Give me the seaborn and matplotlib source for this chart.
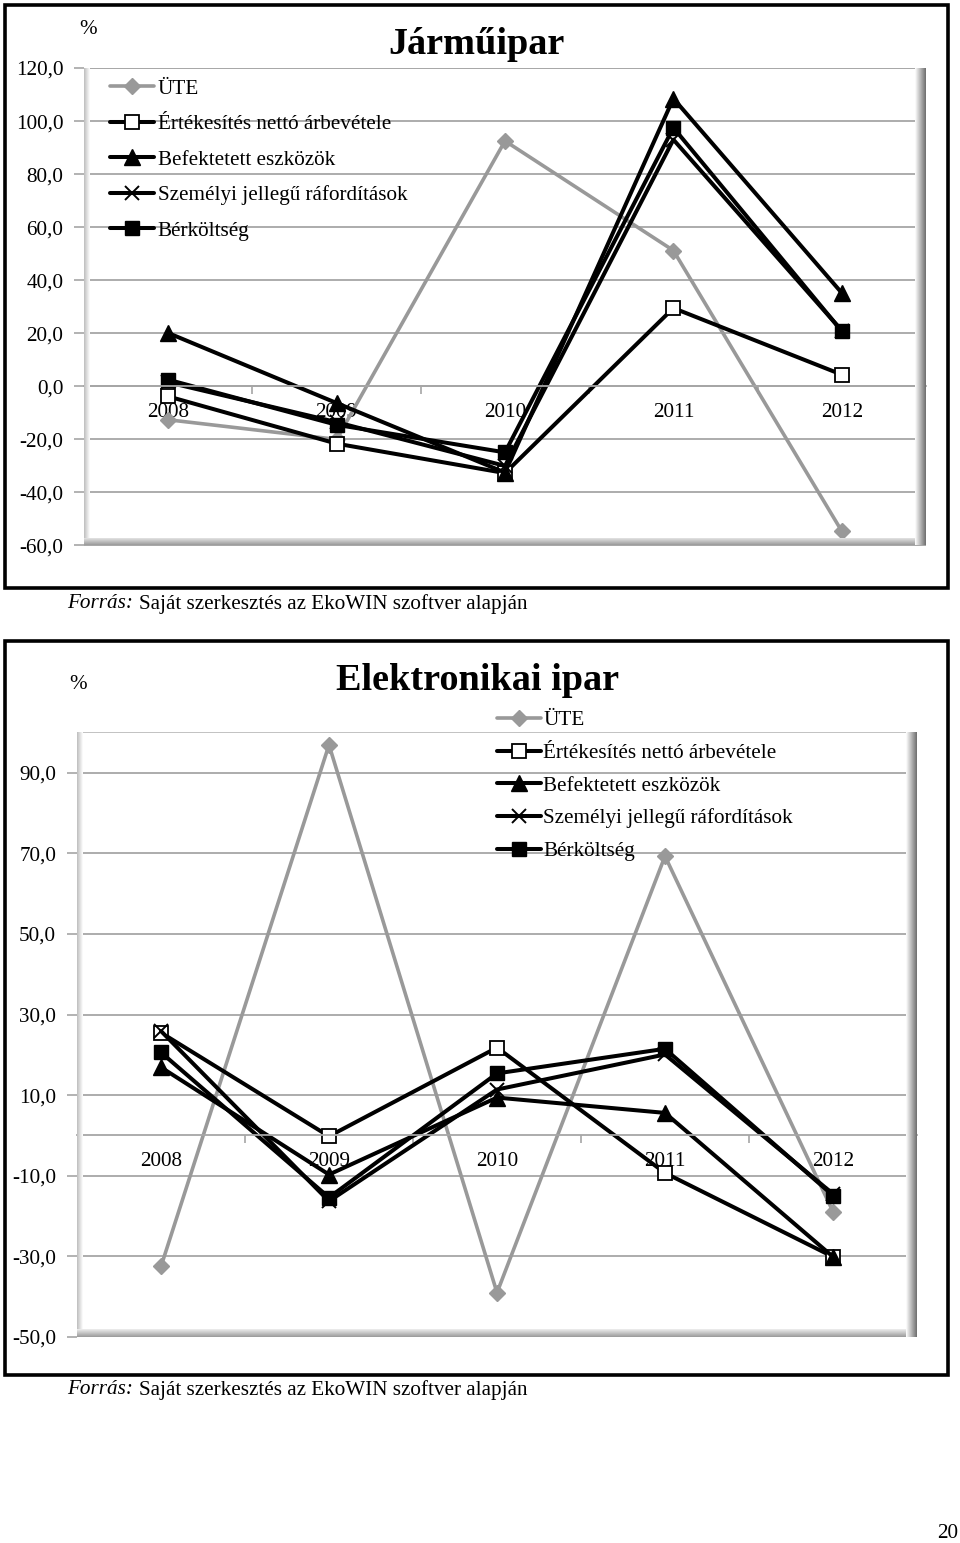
import numpy as np
import matplotlib.pyplot as plt
import matplotlib.ticker as mticker
from matplotlib.colors import LinearSegmentedColormap
from matplotlib.patches import Rectangle
import seaborn as sns

sns.set_theme(style="white")
plt.rcParams["font.family"] = ["Liberation Serif", "DejaVu Serif"]
plt.rcParams["text.color"] = "black"
plt.rcParams["xtick.color"] = "black"
plt.rcParams["ytick.color"] = "black"

# ── data ─────────────────────────────────────────────────────────────
years = ["2008", "2009", "2010", "2011", "2012"]
labels = ["ÜTE", "Értékesítés nettó árbevétele", "Befektetett eszközök",
          "Személyi jellegű ráfordítások", "Bérköltség"]

# Járműipar
ute_j  = [-12.6, -20.0, 92.5, 51.2, -54.6]
ert_j  = [-3.8, -21.6, -32.7, 29.5, 4.4]
bef_j  = [20.1, -6.3, -32.5, 108.5, 35.2]
szem_j = [1.5, -13.5, -30.0, 93.0, 21.0]
ber_j  = [2.5, -14.5, -24.9, 97.5, 20.8]

# Elektronikai ipar
ute_e  = [-32.5, 96.9, -39.0, 69.3, -18.9]
ert_e  = [25.5, -0.2, 21.8, -9.3, -30.1]
bef_e  = [16.9, -9.7, 9.4, 5.6, -30.1]
szem_e = [25.9, -16.3, 11.4, 20.1, -14.5]
ber_e  = [20.6, -15.4, 15.4, 21.5, -14.9]

source_note = "Saját szerkesztés az EkoWIN szoftver alapján"

# ── styles ───────────────────────────────────────────────────────────
GRID = "#a6a6a6"
FS = 15.2
styles = [
    dict(color="#999999", marker="D", markersize=8.5, markerfacecolor="#999999",
         markeredgecolor="#999999", markeredgewidth=1, linewidth=2.6),
    dict(color="black", marker="s", markersize=10.5, markerfacecolor="white",
         markeredgecolor="black", markeredgewidth=1.3, linewidth=2.9),
    dict(color="black", marker="^", markersize=11.5, markerfacecolor="black",
         markeredgecolor="black", markeredgewidth=1, linewidth=2.9),
    dict(color="black", marker="x", markersize=10, markerfacecolor="black",
         markeredgecolor="black", markeredgewidth=1.4, linewidth=2.9),
    dict(color="black", marker="s", markersize=10.5, markerfacecolor="black",
         markeredgecolor="black", markeredgewidth=1, linewidth=2.9),
]

W, H = 960, 1543
fig = plt.figure(figsize=(W / 100, H / 100), dpi=100)


def fx(px):
    return px / W


def fy(py):
    return 1 - py / H


def fmt(v, _):
    return f"{v:.1f}".replace(".", ",")


def bevel(ax, bounds, colors, vertical):
    grad = np.linspace(0, 1, 64)
    grad = grad[:, None] if vertical else grad[None, :]
    sub = ax.inset_axes(bounds)
    sub.imshow(grad, aspect="auto", cmap=LinearSegmentedColormap.from_list("b", colors),
               extent=(0, 1, 1, 0) if vertical else (0, 1, 0, 1))
    sub.set_axis_off()


def draw_chart(ax, series, ylim, yticks, w_px, h_px):
    x = np.arange(len(years))
    for vals, lab, st in zip(series, labels, styles):
        sns.lineplot(x=x, y=vals, ax=ax, label=lab, **st)
    ax.set_xlim(-0.5, len(years) - 0.5)
    ax.set_ylim(*ylim)
    ax.set_yticks(yticks)
    ax.yaxis.set_major_formatter(mticker.FuncFormatter(fmt))
    ax.yaxis.grid(True, color=GRID, linewidth=1.3)
    ax.set_axisbelow(True)
    for s in ["top", "left", "right"]:
        ax.spines[s].set_visible(False)
    ax.spines["bottom"].set_position(("data", 0))
    ax.spines["bottom"].set_color(GRID)
    ax.spines["bottom"].set_linewidth(1.3)
    ax.set_xticks(x)
    ax.set_xticklabels(years)
    ax.set_xticks(x[:-1] + 0.5, minor=True)
    ax.tick_params(axis="x", which="major", length=0, pad=12, labelsize=FS)
    ax.tick_params(axis="x", which="minor", bottom=True, direction="out",
                   length=6, width=1.2, color=GRID)
    ax.tick_params(axis="y", left=True, length=7, width=1.2, color=GRID,
                   pad=8, labelsize=FS)
    ax.set_xlabel("")
    ax.set_ylabel("")
    ax.add_patch(Rectangle((0, 0), 1, 1, transform=ax.transAxes, fill=False,
                           edgecolor="#b8b8b8", linewidth=1.2, zorder=0))
    # shaded 3D edges of the plot area
    bevel(ax, [0, 0, 6 / w_px, 1], ["#bdbdbd", "#ffffff"], False)
    bevel(ax, [0, 0, 1, 8 / h_px], ["#eeeeee", "#9a9a9a"], True)
    bevel(ax, [1 - 11 / w_px, 0, 11 / w_px, 1], ["#ffffff", "#6e6e6e"], False)
    if ax.get_legend():
        ax.get_legend().remove()


def source(y_px):
    fig.text(fx(67), fy(y_px), "Forrás:", fontsize=FS, style="italic", va="center")
    fig.text(fx(139), fy(y_px), source_note, fontsize=FS, va="center")


# ── Járműipar ────────────────────────────────────────────────────────
fig.patches.append(Rectangle((fx(5), fy(588)), fx(943), 583 / H, transform=fig.transFigure,
                             fill=False, edgecolor="black", linewidth=2.6))
ax1 = fig.add_axes([fx(84), fy(545.5), fx(842), 477.5 / H])
draw_chart(ax1, [ute_j, ert_j, bef_j, szem_j, ber_j], (-60, 120),
           np.arange(-60, 121, 20), 842, 477.5)
h, l = ax1.get_legend_handles_labels()
ax1.legend(h, l, loc="upper left", bbox_to_anchor=(fx(110), fy(79)),
           bbox_transform=fig.transFigure, frameon=False, fontsize=FS,
           handlelength=2.1, handletextpad=0.15, labelspacing=0.74,
           borderpad=0, borderaxespad=0, numpoints=1)
fig.text(fx(88), fy(30), "%", fontsize=FS, ha="center", va="center")
fig.text(fx(476), fy(44), "Járműipar", fontsize=27.5, weight="bold",
         ha="center", va="center")
source(604)

# ── Elektronikai ipar ────────────────────────────────────────────────
fig.patches.append(Rectangle((fx(5), fy(1375)), fx(943), 734 / H, transform=fig.transFigure,
                             fill=False, edgecolor="black", linewidth=2.6))
ax2 = fig.add_axes([fx(77), fy(1337), fx(840), 604.6 / H])
draw_chart(ax2, [ute_e, ert_e, bef_e, szem_e, ber_e], (-50, 100),
           np.arange(-50, 91, 20), 840, 604.6)
h, l = ax2.get_legend_handles_labels()
ax2.legend(h, l, loc="upper left", bbox_to_anchor=(fx(497), fy(710.5)),
           bbox_transform=fig.transFigure, frameon=False, fontsize=FS,
           handlelength=2.1, handletextpad=0.1, labelspacing=0.61,
           borderpad=0, borderaxespad=0, numpoints=1)
fig.text(fx(78), fy(685), "%", fontsize=FS, ha="center", va="center")
fig.text(fx(478), fy(680), "Elektronikai ipar", fontsize=27.5, weight="bold",
         ha="center", va="center")
source(1390)

fig.text(fx(958), fy(1533), "20", fontsize=FS, ha="right", va="center")

fig.savefig("out.png", dpi=100)
